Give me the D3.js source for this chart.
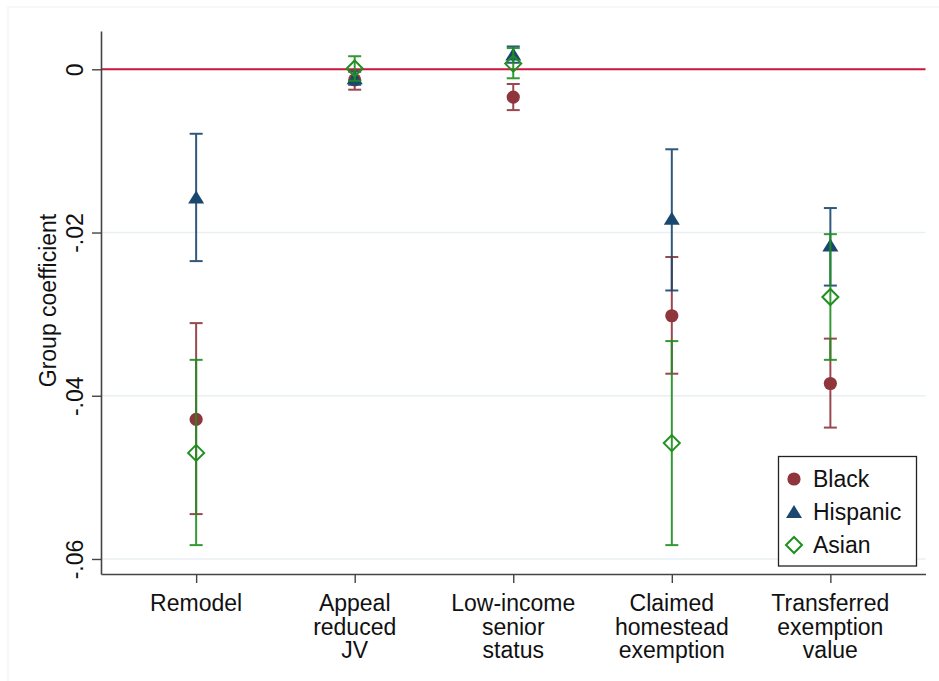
<!DOCTYPE html>
<html>
<head>
<meta charset="utf-8">
<script src="https://cdn.jsdelivr.net/npm/d3@7"></script>
<style>
  html, body { margin: 0; padding: 0; background: #ffffff; }
  svg { display: block; font-family: "Liberation Sans", Arial, sans-serif; }
</style>
</head>
<body>
<svg id="chart" width="939" height="681"></svg>
<script>
// Outcome categories (multi-line labels)
const categories = [
  ["Remodel"],
  ["Appeal", "reduced", "JV"],
  ["Low-income", "senior", "status"],
  ["Claimed", "homestead", "exemption"],
  ["Transferred", "exemption", "value"]
];

// Group coefficients with 95% confidence bounds
const blackEst = [-0.0429, -0.0013, -0.0034, -0.0302, -0.0385];
const blackLo  = [-0.0545, -0.0025, -0.0050, -0.0373, -0.0439];
const blackHi  = [-0.0311, -0.0001, -0.0018, -0.0230, -0.0330];

const hispEst  = [-0.0157, -0.0011, 0.0018, -0.0183, -0.0216];
const hispLo   = [-0.0235, -0.0019, 0.0008, -0.0271, -0.0265];
const hispHi   = [-0.0079, -0.0003, 0.0028, -0.0098, -0.0170];

const asianEst = [-0.0470, 0.0001, 0.0007, -0.0458, -0.0279];
const asianLo  = [-0.0583, -0.0014, -0.0011, -0.0583, -0.0356];
const asianHi  = [-0.0356, 0.0016, 0.0026, -0.0333, -0.0202];

const yTicks = [0, -0.02, -0.04, -0.06];
const yTickLabels = ["0", "-.02", "-.04", "-.06"];
const yTitle = "Group coefficient";

const seriesNames = ["Black", "Hispanic", "Asian"];

const svg = d3.select("#chart");
const fontSize = "23px";

const colors = { Black: "#8f353c", Hispanic: "#1a476f", Asian: "#1f8f1f" };

const x = d3.scaleLinear().domain([0.4, 5.6]).range([101, 925.5]);
const y = d3.scaleLinear().domain([-0.06184, 0.004693]).range([574, 31]);

// faint outer region border
svg.append("rect")
  .attr("x", 8).attr("y", 7).attr("width", 960).attr("height", 700)
  .attr("fill", "none").attr("stroke", "#f0f0f0").attr("stroke-width", 1);

// horizontal gridlines
svg.append("g")
  .selectAll("line")
  .data(yTicks.filter(d => d !== 0))
  .join("line")
  .attr("x1", x(0.4)).attr("x2", x(5.6))
  .attr("y1", d => y(d)).attr("y2", d => y(d))
  .attr("stroke", "#e8f0f2").attr("stroke-width", 1.5);

// reference line at zero
svg.append("line")
  .attr("x1", x(0.4) + 1).attr("x2", x(5.6))
  .attr("y1", y(0)).attr("y2", y(0))
  .attr("stroke", "#c8163e").attr("stroke-width", 2);

// y axis
const yAxis = svg.append("g")
  .attr("transform", `translate(${x(0.4)},0)`)
  .call(d3.axisLeft(y).tickValues(yTicks)
    .tickFormat((d, i) => yTickLabels[i]).tickSize(9).tickSizeOuter(0));
yAxis.select(".domain").attr("stroke", "#444").attr("stroke-width", 1.6);
yAxis.selectAll(".tick line").attr("stroke", "#444").attr("stroke-width", 1.4);
yAxis.selectAll(".tick text")
  .attr("x", null).attr("dy", null)
  .attr("transform", "translate(-18,0) rotate(-90)")
  .attr("text-anchor", "middle")
  .attr("fill", "#111")
  .style("font-size", fontSize)
  .style("font-family", "'Liberation Sans', Arial, sans-serif");

// x axis
const xAxis = svg.append("g")
  .attr("transform", `translate(0,${y.range()[0]})`)
  .call(d3.axisBottom(x).tickValues(d3.range(1, categories.length + 1))
    .tickFormat("").tickSize(9).tickSizeOuter(0));
xAxis.select(".domain").attr("stroke", "#444").attr("stroke-width", 1.6);
xAxis.selectAll(".tick line").attr("stroke", "#444").attr("stroke-width", 1.4);

// category labels
const catLabels = svg.append("g")
  .selectAll("text")
  .data(categories)
  .join("text")
  .attr("x", (d, i) => x(i + 1))
  .attr("y", 611)
  .attr("text-anchor", "middle")
  .attr("fill", "#111")
  .style("font-size", fontSize);
catLabels.selectAll("tspan")
  .data((d, i) => d.map(t => ({ t, i })))
  .join("tspan")
  .attr("x", d => x(d.i + 1))
  .attr("dy", (d, j) => j === 0 ? 0 : 23.5)
  .text(d => d.t);

// y axis title
svg.append("text")
  .attr("transform", "translate(56,300.5) rotate(-90)")
  .attr("text-anchor", "middle")
  .attr("fill", "#111")
  .style("font-size", fontSize)
  .text(yTitle);

// marker shapes
const markerPath = {
  Black: d3.symbol().type(d3.symbolCircle).size(Math.PI * 6.6 * 6.6)(),
  Hispanic: "M0,-7L8,6L-8,6Z",
  Asian: "M0,-8L8,0L0,8L-8,0Z"
};
function styleMarker(sel, name) {
  if (name === "Asian") {
    sel.attr("fill", "none").attr("stroke", colors[name]).attr("stroke-width", 2);
  } else {
    sel.attr("fill", colors[name]).attr("stroke", "none");
  }
}

const seriesData = {
  Black: { est: blackEst, lo: blackLo, hi: blackHi },
  Hispanic: { est: hispEst, lo: hispLo, hi: hispHi },
  Asian: { est: asianEst, lo: asianLo, hi: asianHi }
};

const capHalf = 6.5;
seriesNames.forEach(name => {
  const s = seriesData[name];
  const rows = s.est.map((e, i) => ({ i, est: e, lo: s.lo[i], hi: s.hi[i] }));
  const g = svg.append("g").attr("class", "series-" + name);
  const ci = g.append("g")
    .attr("stroke", colors[name]).attr("stroke-width", 2).attr("opacity", 0.9);
  ci.selectAll("line.v").data(rows).join("line").attr("class", "v")
    .attr("x1", d => x(d.i + 1)).attr("x2", d => x(d.i + 1))
    .attr("y1", d => y(d.hi)).attr("y2", d => y(d.lo));
  ci.selectAll("line.h").data(rows).join("line").attr("class", "h")
    .attr("x1", d => x(d.i + 1) - capHalf).attr("x2", d => x(d.i + 1) + capHalf)
    .attr("y1", d => y(d.hi)).attr("y2", d => y(d.hi));
  ci.selectAll("line.l").data(rows).join("line").attr("class", "l")
    .attr("x1", d => x(d.i + 1) - capHalf).attr("x2", d => x(d.i + 1) + capHalf)
    .attr("y1", d => y(d.lo)).attr("y2", d => y(d.lo));
  g.selectAll("path").data(rows).join("path")
    .attr("d", markerPath[name])
    .attr("transform", d => `translate(${x(d.i + 1)},${y(d.est)})`)
    .call(styleMarker, name);
});

// legend
const legend = svg.append("g");
legend.append("rect")
  .attr("x", 778.5).attr("y", 456.5).attr("width", 138).attr("height", 109.5)
  .attr("fill", "#ffffff").attr("stroke", "#222").attr("stroke-width", 1.3);
seriesNames.forEach((name, i) => {
  const cy = 479 + i * 33;
  legend.append("path")
    .attr("d", markerPath[name])
    .attr("transform", `translate(794,${cy})`)
    .call(styleMarker, name);
  legend.append("text")
    .attr("x", 813).attr("y", cy + 8)
    .attr("fill", "#111")
    .style("font-size", fontSize)
    .text(name);
});
</script>
</body>
</html>
